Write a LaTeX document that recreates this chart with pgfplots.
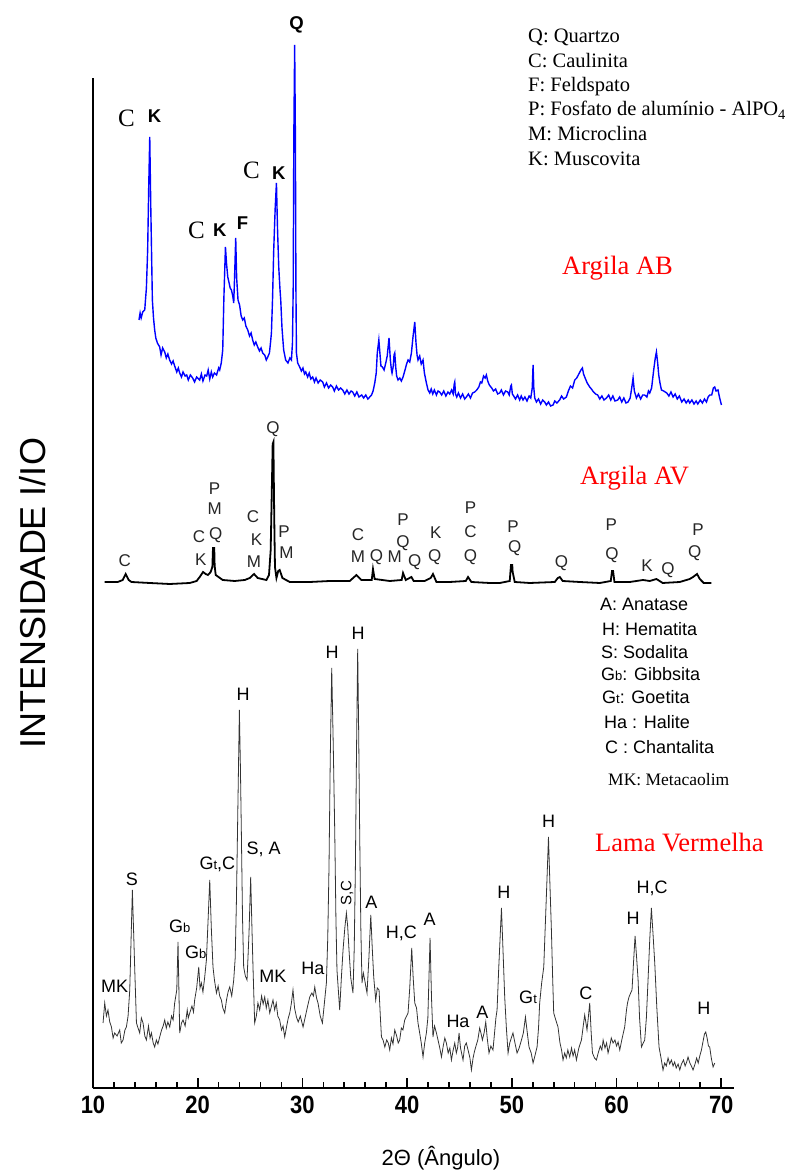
\documentclass[border=0pt]{standalone}
\usepackage{graphicx}
\usepackage{pgfplots}
\pgfplotsset{compat=1.18}
\usepackage{fontspec}
\setmainfont{Liberation Serif}
\newfontfamily\arial{Liberation Sans}
\newcommand\fs[1]{\fontsize{#1}{#1}\selectfont}
\newcommand\tl[1]{\scalebox{0.88}[1]{#1}}
\newcommand{\lb}[4][]{\node[#1] at (axis cs:#2,#3) {#4};}
\tikzset{
 bT/.style={font=\fs{25}},
 bA/.style={font=\arial\bfseries\fs{18.5}},
 avl/.style={font=\arial\fs{17}, text=black!85},
 lvl/.style={font=\arial\fs{18}},
}
\begin{document}
\begin{tikzpicture}
\path[use as bounding box] (0pt,0pt) rectangle (795pt,1171pt);
\begin{axis}[
 at={(93pt,83pt)}, anchor=south west,
 scale only axis, width=640.8pt, height=1010pt,
 xmin=10, xmax=71.2, ymin=0, ymax=1010,
 axis x line*=bottom, axis y line*=left,
 axis line style={line width=2.2pt, black},
 xtick={10,20,30,40,50,60,70},
 xticklabels={\tl{10},\tl{20},\tl{30},\tl{40},\tl{50},\tl{60},\tl{70}},
 minor x tick num=4,
 ytick=\empty,
 xtick align=inside,
 major tick length=10pt, minor tick length=6pt,
 every tick/.style={black, line width=1.6pt},
 xticklabel style={font=\arial\bfseries\fs{25}, yshift=-5pt},
 clip=false,
]
% ---------------- Argila AB (blue)
\addplot[color={rgb,255:red,0;green,0;blue,255}, line width=1.4pt] table {
x y
14.39 768
14.50 775
14.60 770
14.75 776
14.94 778
15.10 800
15.22 838
15.32 900
15.42 951
15.52 880
15.67 788
15.78 770
15.89 758
16.00 750
16.15 745
16.37 741
16.50 733
16.65 740
16.85 736
17.00 730
17.15 734
17.32 728
17.50 724
17.65 727
17.80 722
18.00 716
18.15 720
18.28 715
18.45 711
18.60 716
18.80 712
18.95 713
19.10 708
19.30 713
19.52 710
19.70 706
19.90 711
20.19 708
20.35 714
20.50 707
20.70 713
20.86 712
21.00 718
21.15 709
21.30 716
21.43 711
21.60 715
21.80 713
22.00 720
22.10 718
22.25 725
22.39 738
22.50 790
22.65 841
22.75 825
22.87 811
23.00 805
23.10 800
23.22 798
23.35 792
23.44 785
23.52 810
23.63 850
23.72 810
23.85 788
24.00 783
24.15 772
24.30 768
24.45 770
24.60 762
24.78 758
24.95 752
25.10 755
25.25 748
25.40 743
25.55 746
25.73 741
25.90 737
26.05 740
26.21 735
26.40 733
26.55 728
26.69 731
26.85 735
26.95 745
27.04 755
27.15 790
27.26 838
27.40 880
27.52 905
27.62 860
27.74 821
27.85 800
27.93 788
28.05 760
28.21 738
28.40 728
28.62 725
28.80 730
28.95 728
29.05 745
29.12 800
29.18 950
29.26 1043
29.33 950
29.38 800
29.43 735
29.55 725
29.74 721
29.90 717
30.05 720
30.20 714
30.32 716
30.50 711
30.65 715
30.80 709
30.98 711
31.15 706
31.30 710
31.50 705
31.70 708
31.94 706
32.10 701
32.30 705
32.50 700
32.70 703
32.89 701
33.05 697
33.25 702
33.45 698
33.65 700
33.85 698
34.05 694
34.25 698
34.45 694
34.65 697
34.80 696
35.00 692
35.20 696
35.40 691
35.66 693
35.85 690
36.05 693
36.25 689
36.43 691
36.60 693
36.75 697
36.91 705
37.05 715
37.15 735
37.30 748
37.40 735
37.50 722
37.64 721
37.80 718
37.96 725
38.10 732
38.27 750
38.40 728
38.50 718
38.56 715
38.68 722
38.75 733
38.82 735
38.92 720
39.00 712
39.13 708
39.30 710
39.45 707
39.61 711
39.80 718
39.95 724
40.09 728
40.25 726
40.41 735
40.55 750
40.73 766
40.85 745
40.95 733
41.04 728
41.20 732
41.35 724
41.52 728
41.65 715
41.84 705
42.00 698
42.16 695
42.30 699
42.45 694
42.60 698
42.80 693
42.95 697
43.11 696
43.30 693
43.50 697
43.70 692
43.90 696
44.07 694
44.25 698
44.40 694
44.50 704
44.55 706
44.62 694
44.74 691
44.90 695
45.10 690
45.30 694
45.50 689
45.66 691
45.85 694
46.05 690
46.25 695
46.46 696
46.65 698
46.85 701
47.00 706
47.13 705
47.30 712
47.45 710
47.57 713
47.70 707
47.85 703
48.08 700
48.25 697
48.45 699
48.65 694
48.84 695
49.00 698
49.20 693
49.40 697
49.61 696
49.75 693
49.90 702
49.96 703
50.05 694
50.18 692
50.35 689
50.55 693
50.75 688
50.90 692
51.07 688
51.25 691
51.45 687
51.65 692
51.81 690
51.95 700
52.03 723
52.10 700
52.19 690
52.35 686
52.55 689
52.75 684
52.95 688
53.14 686
53.30 683
53.50 686
53.70 682
53.94 683
54.10 687
54.30 685
54.57 688
54.75 692
54.95 689
55.21 691
55.40 697
55.60 702
55.80 700
56.01 708
56.20 710
56.40 714
56.60 718
56.74 720
56.85 714
57.00 710
57.20 705
57.44 701
57.60 699
57.80 696
58.00 694
58.20 693
58.40 689
58.60 692
58.80 688
59.04 690
59.25 693
59.45 688
59.65 692
59.85 687
60.11 688
60.30 691
60.50 686
60.70 690
60.90 685
61.10 686
61.30 690
61.45 700
61.58 710
61.70 697
61.90 690
62.10 694
62.30 689
62.50 693
62.69 693
62.90 691
63.05 697
63.17 695
63.35 700
63.55 718
63.70 730
63.81 736
63.93 725
64.03 713
64.15 705
64.29 698
64.50 697
64.80 695
65.00 692
65.20 696
65.40 691
65.60 694
65.80 689
66.00 692
66.23 686
66.45 689
66.65 685
66.85 688
66.99 685
67.20 688
67.40 684
67.60 687
67.76 684
68.00 688
68.20 685
68.40 689
68.59 686
68.75 691
68.90 693
69.09 693
69.25 700
69.38 701
69.50 697
69.69 698
69.85 690
70.02 683
};
% ---------------- Argila AV (black)
\addplot[black, line width=1.8pt] table {
x y
11.12 506
12.36 506
12.84 508
13.12 514
13.41 508
13.67 506
15.42 505
17.33 504
19.24 505
19.90 507
20.19 511
20.51 516
20.76 514
20.98 513
21.24 516
21.40 521
21.46 540
21.58 540
21.62 522
21.72 513
22.39 508
23.53 507
24.49 508
24.97 510
25.38 514
25.73 510
26.56 508
26.81 513
26.97 538
27.10 610
27.16 644
27.23 646
27.29 588
27.33 555
27.38 521
27.52 510
27.69 517
27.83 518
28.09 510
28.79 506
30.70 506
32.61 507
34.52 507
35.16 513
35.64 508
36.62 508
36.74 519
36.90 509
38.34 507
39.48 508
39.61 515
39.87 508
40.41 511
40.63 507
41.68 507
42.25 510
42.47 514
42.80 506
44.07 506
45.60 507
45.82 511
46.14 506
47.89 505
48.84 505
49.80 507
49.92 523
50.04 523
50.08 516
50.28 506
51.71 505
54.10 506
54.39 510
54.58 511
54.86 507
56.49 506
58.40 505
59.45 507
59.57 517
59.67 517
59.80 506
61.26 506
62.53 508
63.17 507
63.81 509
64.41 505
66.04 506
66.99 509
67.31 511
67.69 514
67.95 509
68.33 505
69.06 505
};
% ---------------- Lama Vermelha (dark grey)
\addplot[black!80, line width=0.8pt] table {
x y
10.96 65
11.12 85
11.28 72
11.43 78
11.60 66
11.76 61
11.92 50
12.07 55
12.30 52
12.55 58
12.70 45
12.87 48
13.05 58
13.19 61
13.35 72
13.51 98
13.76 198
13.98 121
14.15 65
14.30 60
14.46 55
14.62 70
14.78 65
14.95 52
15.10 48
15.30 62
15.45 50
15.58 55
15.75 45
15.89 41
16.05 48
16.20 44
16.37 51
16.55 58
16.70 62
16.85 68
17.00 60
17.15 66
17.33 61
17.50 72
17.65 68
17.80 85
18.00 98
18.12 146
18.28 55
18.45 65
18.60 68
18.80 62
19.00 78
19.10 70
19.24 75
19.45 82
19.60 76
19.71 88
19.90 100
20.10 121
20.22 100
20.35 105
20.50 96
20.67 111
20.83 128
21.00 170
21.15 208
21.30 160
21.46 121
21.60 108
21.79 95
21.95 102
22.10 92
22.26 88
22.40 80
22.58 75
22.75 88
22.90 96
23.06 101
23.25 92
23.44 108
23.58 130
23.70 188
23.85 290
23.98 378
24.08 320
24.17 255
24.28 170
24.39 121
24.55 112
24.71 108
24.80 130
24.90 155
25.06 211
25.18 160
25.28 121
25.44 65
25.60 72
25.75 85
25.92 78
26.10 92
26.25 84
26.40 91
26.55 80
26.70 88
26.88 75
27.05 82
27.19 88
27.35 78
27.50 85
27.65 72
27.83 68
28.00 58
28.15 62
28.31 51
28.50 62
28.65 70
28.79 75
28.95 85
29.10 98
29.25 80
29.43 71
29.60 66
29.80 72
30.06 61
30.25 70
30.50 82
30.70 91
30.90 95
31.05 92
31.18 101
31.35 90
31.49 85
31.70 72
31.91 65
32.10 85
32.29 105
32.42 150
32.54 221
32.66 330
32.80 420
32.95 340
33.09 255
33.20 170
33.30 118
33.45 95
33.56 78
33.72 110
33.88 138
34.05 160
34.20 175
34.32 162
34.45 138
34.62 110
34.83 95
34.95 140
35.06 221
35.16 330
35.28 439
35.38 350
35.47 255
35.58 160
35.69 105
35.82 115
35.95 108
36.08 100
36.17 95
36.35 130
36.53 173
36.67 140
36.81 111
37.00 88
37.15 100
37.32 98
37.45 70
37.55 51
37.70 48
37.87 41
38.05 48
38.20 45
38.34 38
38.50 50
38.65 44
38.82 58
39.00 52
39.15 45
39.29 48
39.45 60
39.60 58
39.77 68
39.95 72
40.09 75
40.25 100
40.44 140
40.58 110
40.73 85
40.90 80
41.04 65
41.20 55
41.35 45
41.52 31
41.68 45
41.84 55
41.98 70
42.19 150
42.33 90
42.47 51
42.62 62
42.80 55
42.95 48
43.12 40
43.28 31
43.45 42
43.60 50
43.75 45
43.92 35
44.08 40
44.23 28
44.40 38
44.55 45
44.70 35
44.82 40
44.96 55
45.10 40
45.20 35
45.34 28
45.50 42
45.65 45
45.82 38
46.00 30
46.14 18
46.30 30
46.42 36
46.55 41
46.75 48
46.93 60
47.05 55
47.19 48
47.35 55
47.51 66
47.65 50
47.82 35
48.00 42
48.20 38
48.35 55
48.48 70
48.59 78
48.75 120
49.01 180
49.15 140
49.32 91
49.48 60
49.64 35
49.80 45
49.95 50
50.11 55
50.30 45
50.50 35
50.70 40
50.92 48
51.10 55
51.30 71
51.48 55
51.64 41
51.85 35
52.03 25
52.20 32
52.41 41
52.55 60
52.66 85
52.85 105
53.05 121
53.24 175
53.38 215
53.50 251
53.62 210
53.78 158
53.90 110
54.00 75
54.20 68
54.41 61
54.60 45
54.75 38
54.89 28
55.05 35
55.20 30
55.35 38
55.53 31
55.70 40
55.85 32
56.00 38
56.17 28
56.40 40
56.65 48
56.82 62
56.96 73
57.08 65
57.18 58
57.30 70
57.44 85
57.58 55
57.70 35
57.90 30
58.08 28
58.25 35
58.45 42
58.60 38
58.72 48
58.90 40
59.05 45
59.19 35
59.35 42
59.50 50
59.67 45
59.85 48
60.00 42
60.15 46
60.31 38
60.50 48
60.65 55
60.78 61
60.95 78
61.05 85
61.19 91
61.35 95
61.48 98
61.62 125
61.77 152
61.92 130
62.06 108
62.20 70
62.38 41
62.55 45
62.69 48
62.85 70
63.01 108
63.18 150
63.33 180
63.48 155
63.65 125
63.85 80
64.06 41
64.25 30
64.44 18
64.60 25
64.75 22
64.92 30
65.08 24
65.24 28
65.40 22
65.55 26
65.70 20
65.88 24
66.04 18
66.20 24
66.40 28
66.55 22
66.70 26
66.83 31
67.00 25
67.15 22
67.31 18
67.50 24
67.65 30
67.80 25
67.95 32
68.11 38
68.25 46
68.40 54
68.52 56
68.65 50
68.78 42
68.90 41
69.05 30
69.22 21
69.38 25
};
% ---------------- peak labels, Argila AB
\lb[bT]{13.19}{970}{C}
\lb[bA]{15.89}{972}{K}
\lb[bT]{19.88}{858}{C}
\lb[bA]{22.10}{858}{K}
\lb[bA]{24.27}{865}{F}
\lb[bT]{25.13}{918}{C}
\lb[bA]{27.74}{915}{K}
\lb[bA]{29.43}{1063}{Q}
% ---------------- peak labels, Argila AV
\lb[avl]{13.03}{527}{C}
\lb[avl]{20.12}{551}{C}
\lb[avl]{20.29}{528}{K}
\lb[avl]{21.62}{599}{P}
\lb[avl]{21.62}{579}{M}
\lb[avl]{21.72}{553}{Q}
\lb[avl]{25.28}{571}{C}
\lb[avl]{25.61}{548}{K}
\lb[avl]{25.38}{526}{M}
\lb[avl]{27.19}{659}{Q}
\lb[avl]{28.24}{556}{P}
\lb[avl]{28.47}{535}{M}
\lb[avl]{35.31}{553}{C}
\lb[avl]{35.31}{531}{M}
\lb[avl]{37.07}{531}{Q}
\lb[avl]{38.82}{531}{M}
\lb[avl]{39.61}{568}{P}
\lb[avl]{39.61}{545}{Q}
\lb[avl]{40.73}{526}{Q}
\lb[avl]{42.73}{555}{K}
\lb[avl]{42.64}{531}{Q}
\lb[avl]{46.05}{580}{P}
\lb[avl]{46.05}{556}{C}
\lb[avl]{46.05}{531}{Q}
\lb[avl]{50.11}{561}{P}
\lb[avl]{50.28}{540}{Q}
\lb[avl]{54.74}{525}{Q}
\lb[avl]{59.51}{563}{P}
\lb[avl]{59.57}{533}{Q}
\lb[avl]{62.91}{522}{K}
\lb[avl]{64.92}{518}{Q}
\lb[avl]{67.78}{558}{P}
\lb[avl]{67.47}{535}{Q}
% ---------------- peak labels, Lama Vermelha
\lb[lvl]{12.07}{102}{MK}
\lb[lvl]{13.72}{209}{S}
\lb[lvl]{18.28}{162}{G{\fs{13}b}}
\lb[lvl]{19.81}{136}{G{\fs{13}b}}
\lb[lvl]{21.88}{224}{G{\fs{13}t},C}
\lb[lvl]{24.33}{394}{H}
\lb[lvl]{26.30}{239}{S, A}
\lb[lvl]{27.19}{112}{MK}
\lb[lvl]{31.01}{120}{Ha}
\lb[lvl]{32.83}{436}{H}
\lb[lvl,rotate=90,font=\arial\fs{15}]{34.26}{195}{S,C}
\lb[lvl]{35.31}{455}{H}
\lb[lvl]{36.59}{186}{A}
\lb[lvl]{39.45}{155}{H,C}
\lb[lvl]{42.16}{169}{A}
\lb[lvl]{44.86}{67}{Ha}
\lb[lvl]{47.19}{76}{A}
\lb[lvl]{49.23}{196}{H}
\lb[lvl]{51.55}{91}{G{\fs{13}t}}
\lb[lvl]{53.52}{267}{H}
\lb[lvl]{57.06}{95}{C}
\lb[lvl]{61.58}{170}{H}
\lb[lvl]{63.39}{200}{H,C}
\lb[lvl]{68.35}{80}{H}
\end{axis}
% ---------------- axis titles
\node[rotate=90, font=\arial\fs{36}] at (33pt,578pt) {INTENSIDADE I/IO};
\node[font=\arial\fs{22}] at (441pt,13pt) {2Θ (Ângulo)};
% ---------------- legend (Argila)
\begin{scope}[every node/.style={anchor=base west, font=\fs{20.5}, inner sep=0pt}]
\node at (528pt,1128pt) {Q: Quartzo};
\node at (528pt,1103pt) {C: Caulinita};
\node at (528pt,1079pt) {F: Feldspato};
\node at (528pt,1055pt) {P: Fosfato de alumínio - AlPO\textsubscript{4}};
\node at (528pt,1030pt) {M: Microclina};
\node at (528pt,1005pt) {K: Muscovita};
\end{scope}
% ---------------- sample names
\node[anchor=base west, inner sep=0pt, font=\fs{26.5}, text=red] at (562pt,896pt) {Argila AB};
\node[anchor=base west, inner sep=0pt, font=\fs{26.5}, text=red] at (580pt,686pt) {Argila AV};
\node[anchor=base west, inner sep=0pt, font=\fs{26.5}, text=red] at (595pt,319pt) {Lama Vermelha};
% ---------------- legend (Lama)
\begin{scope}[every node/.style={anchor=base west, font=\arial\fs{18}, inner sep=0pt}]
\node at (600pt,560pt) {A: Anatase};
\node at (602pt,535pt) {H: Hematita};
\node at (601pt,512pt) {S: Sodalita};
\node at (601pt,490pt) {G{\fs{13}b}: Gibbsita};
\node at (602pt,467pt) {G{\fs{13}t}: Goetita};
\node at (604pt,442pt) {Ha : Halite};
\node at (605pt,417pt) {C : Chantalita};
\node[font=\fs{17.5}] at (608pt,385pt) {MK: Metacaolim};
\end{scope}
\end{tikzpicture}
\end{document}
